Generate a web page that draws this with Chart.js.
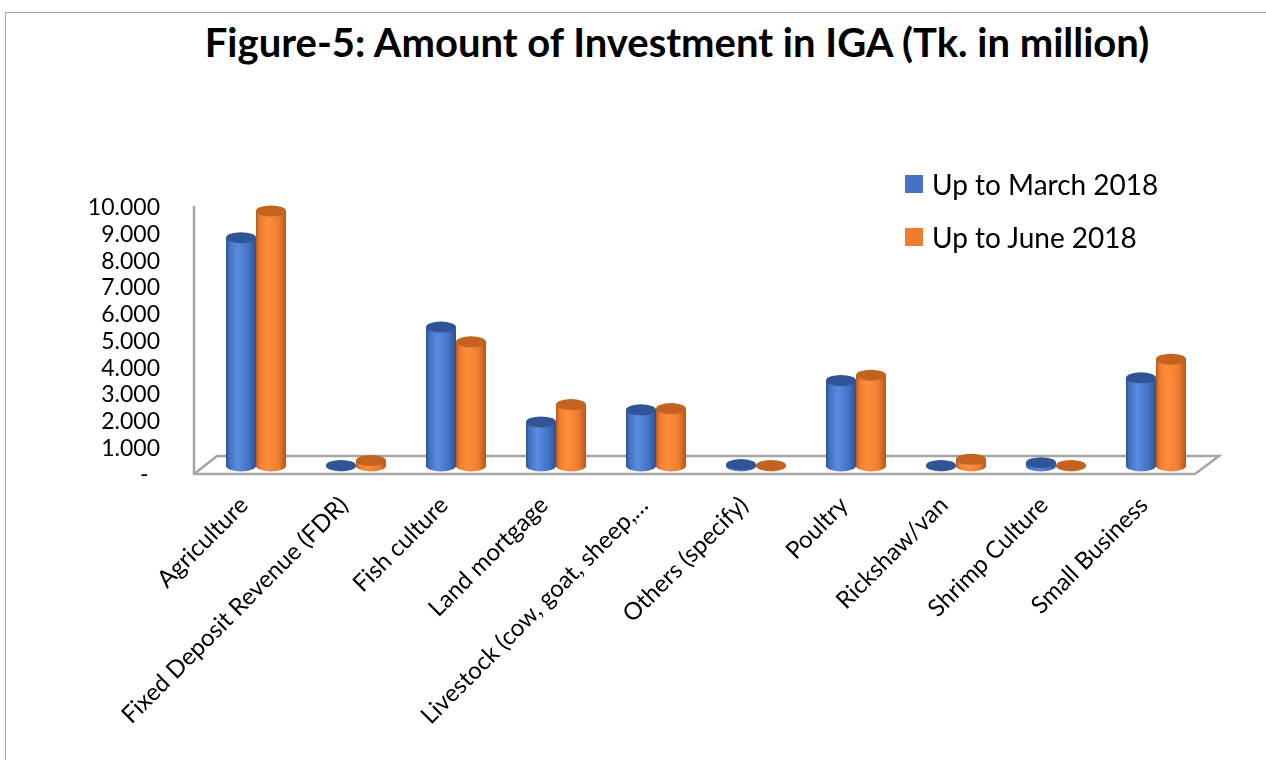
<!DOCTYPE html>
<html>
<head>
<meta charset="utf-8">
<title>Figure-5: Amount of Investment in IGA</title>
<script src="https://cdn.jsdelivr.net/npm/chart.js@4.4.0/dist/chart.umd.min.js"></script>
<style>
  html, body { margin: 0; padding: 0; background: #fff; overflow: hidden; }
  body { width: 1266px; height: 760px; position: relative; font-family: Lato, "Open Sans", sans-serif; }
  .frame { position: absolute; left: 5px; top: 12px; width: 1400px; height: 900px; border: 1px solid #a6a6a6; }
  .title { position: absolute; left: 0; width: 1354px; top: 18px; text-align: center; font-weight: bold; font-size: 40px; color: #000; }
  #chart-wrap { position: absolute; left: 0; top: 0; width: 1266px; height: 760px; }
  #legend { position: absolute; left: 905px; top: 157px; }
  .legend-item { display: flex; align-items: center; height: 53px; font-size: 28px; color: #000; }
  .legend-box { width: 18px; height: 18px; margin-right: 9px; }
</style>
</head>
<body>
<div class="frame"></div>
<div class="title">Figure-5: Amount of Investment in IGA (Tk. in million)</div>
<div id="chart-wrap"><canvas id="igaChart" width="1266" height="760"></canvas></div>
<div id="legend"></div>

<script>
// Categories (x axis)
const categories = [
  'Agriculture',
  'Fixed Deposit Revenue (FDR)',
  'Fish culture',
  'Land mortgage',
  'Livestock (cow, goat, sheep,\u2026',
  'Others (specify)',
  'Poultry',
  'Rickshaw/van',
  'Shrimp Culture',
  'Small Business'
];

// Series values, Tk. in million
const upToMarch = [8.55, 0.02, 5.20, 1.65, 2.10, 0.05, 3.20, 0.02, 0.12, 3.30];
const upToJune  = [9.55, 0.20, 4.65, 2.30, 2.15, 0.02, 3.40, 0.25, 0.02, 4.00];

// Tick values on the y axis
const yTicks = [0, 1, 2, 3, 4, 5, 6, 7, 8, 9, 10];

// Series colours: [flat legend colour, light, dark edge, top cap]
const blueShades   = ['#4472C4', '#5a8be0', '#2c528f', '#2f5597'];
const orangeShades = ['#ED7D31', '#ff8d3b', '#b5571a', '#c4621f'];

/**
 * Returns a horizontal gradient that makes a bar look like a cylinder
 */
function cylinderFill(ctx, x0, width, shades) {
  const g = ctx.createLinearGradient(x0, 0, x0 + width, 0);
  g.addColorStop(0, shades[2]);
  g.addColorStop(0.12, shades[0]);
  g.addColorStop(0.38, shades[1]);
  g.addColorStop(0.75, shades[0]);
  g.addColorStop(1, shades[2]);
  return g;
}

/**
 * Scriptable background: needs bar geometry, so falls back to a flat colour on first pass
 */
function barBackground(shades) {
  return function (context) {
    const chart = context.chart;
    const meta = chart.getDatasetMeta(context.datasetIndex);
    const el = meta.data[context.dataIndex];
    if (!el || !el.width) return shades[0];
    return cylinderFill(chart.ctx, el.x - el.width / 2, el.width, shades);
  };
}

// Draws the 3D floor and the front y axis line
const floorPlugin = {
  id: 'floor',
  beforeDatasetsDraw(chart) {
    const { ctx, chartArea: a, scales } = chart;
    const front = a.bottom - 1;
    const back = scales.y.getPixelForValue(0) - 10;
    ctx.save();
    ctx.strokeStyle = '#a6a6a6';
    ctx.lineWidth = 2.5;
    ctx.beginPath();
    ctx.moveTo(a.left - 12, scales.y.getPixelForValue(10) + 7);
    ctx.lineTo(a.left - 12, front);
    ctx.lineTo(a.right - 11, front);
    ctx.lineTo(a.right + 13, back);
    ctx.lineTo(a.left + 11, back);
    ctx.lineTo(a.left - 12, front);
    ctx.stroke();
    ctx.restore();
  }
};

// Draws the rounded bottoms and the caps of the cylinders
const cylinderPlugin = {
  id: 'cylinder',
  afterDatasetsDraw(chart) {
    const ctx = chart.ctx;
    chart.data.datasets.forEach((ds, i) => {
      const meta = chart.getDatasetMeta(i);
      meta.data.forEach(el => {
        const rx = el.width / 2;
        const ry = 5.5;
        ctx.save();
        // rounded bottom
        ctx.beginPath();
        ctx.ellipse(el.x, el.base, rx, ry, 0, 0, Math.PI);
        ctx.fillStyle = cylinderFill(ctx, el.x - rx, el.width, ds.shades);
        ctx.fill();
        // top cap
        ctx.beginPath();
        ctx.ellipse(el.x, el.y, rx, ry, 0, 0, Math.PI * 2);
        ctx.fillStyle = ds.shades[3];
        ctx.fill();
        ctx.restore();
      });
    });
  }
};

/**
 * Builds the HTML legend from the chart datasets
 */
function renderLegend(chart) {
  const box = document.getElementById('legend');
  box.innerHTML = chart.data.datasets.map(ds => `
    <div class="legend-item">
      <span class="legend-box" style="background:${ds.shades[0]}"></span>
      <span>${ds.label}</span>
    </div>
  `).join('');
}

const igaChart = new Chart(document.getElementById('igaChart'), {
  type: 'bar',
  data: {
    labels: categories,
    datasets: [
      {
        label: 'Up to March 2018',
        data: upToMarch,
        shades: blueShades,
        backgroundColor: barBackground(blueShades)
      },
      {
        label: 'Up to June 2018',
        data: upToJune,
        shades: orangeShades,
        backgroundColor: barBackground(orangeShades)
      }
    ]
  },
  options: {
    responsive: false,
    animation: false,
    layout: { padding: { left: 0, right: 60, top: 199, bottom: 0 } },
    datasets: { bar: { categoryPercentage: 0.6, barPercentage: 1.0, borderWidth: 0 } },
    plugins: {
      legend: { display: false },
      title: { display: false },
      tooltip: { enabled: false }
    },
    scales: {
      x: {
        grid: { display: false, drawTicks: false },
        border: { display: false },
        afterFit: s => { s.height = 285; },
        ticks: {
          autoSkip: false,
          maxRotation: 45,
          minRotation: 45,
          padding: 16,
          labelOffset: -12,
          color: '#000',
          font: { family: 'Lato', size: 24 }
        }
      },
      y: {
        min: -0.34,
        max: 10,
        grid: { display: false, drawTicks: false },
        border: { display: false },
        afterFit: s => { s.width = 206; },
        afterBuildTicks: s => { s.ticks = yTicks.map(v => ({ value: v })); },
        ticks: {
          autoSkip: false,
          padding: 46,
          labelOffset: 9,
          color: '#000',
          font: { family: 'Lato', size: 23 },
          callback: v => (v === 0 ? '-\u2002' : Number(v).toFixed(3))
        }
      }
    }
  },
  plugins: [floorPlugin, cylinderPlugin]
});

// second pass so the gradients can use the bar geometry
igaChart.update('none');
renderLegend(igaChart);
</script>
</body>
</html>
